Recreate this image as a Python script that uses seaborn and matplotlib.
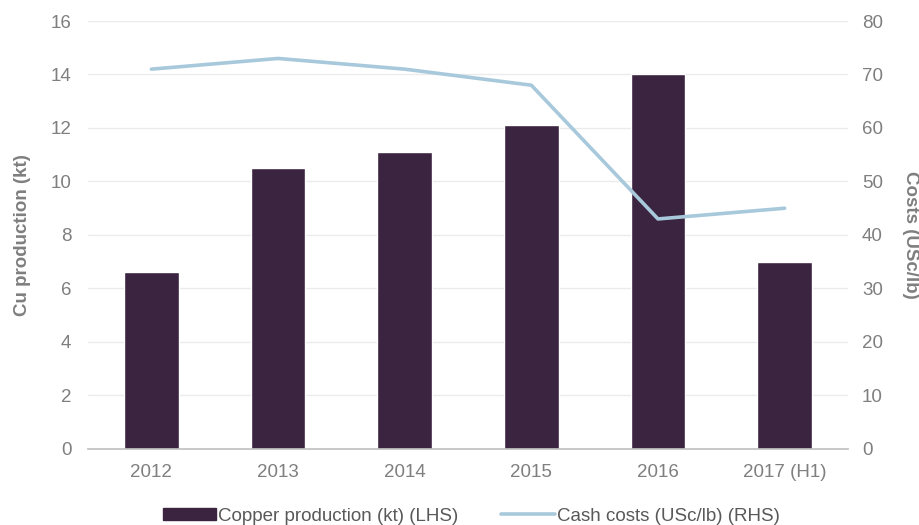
import matplotlib
matplotlib.use("Agg")
import matplotlib.pyplot as plt
import seaborn as sns
import pandas as pd
from matplotlib.patches import Patch
from matplotlib.lines import Line2D

years = ["2012", "2013", "2014", "2015", "2016", "2017 (H1)"]
copper_kt = [6.6, 10.5, 11.1, 12.1, 14.0, 7.0]
cash_costs = [71, 73, 71, 68, 43, 45]

bar_color = "#3b2440"
line_color = "#a7c9db"
text_color = "#7f7f7f"

sns.set_theme(style="white")
plt.rcParams["font.family"] = ["Liberation Sans", "DejaVu Sans"]

df = pd.DataFrame({"year": years, "copper": copper_kt, "cost": cash_costs})

fig = plt.figure(figsize=(9.2, 5.25), dpi=100)
ax = fig.add_axes([0.0957, 0.1448, 0.8260, 0.8152])

sns.barplot(data=df, x="year", y="copper", color=bar_color, width=0.43,
            saturation=1, ax=ax, zorder=2)
ax.set_xlim(-0.5, len(years) - 0.5)
ax.set_ylim(0, 16)
ax.set_yticks(range(0, 17, 2))
ax.grid(axis="y", color="#ebebeb", linewidth=1, zorder=0)
ax.set_axisbelow(True)

ax2 = ax.twinx()
sns.lineplot(x=list(range(len(years))), y=cash_costs, color=line_color,
             linewidth=2.6, ax=ax2, zorder=3)
ax2.set_ylim(0, 80)
ax2.set_yticks(range(0, 81, 10))

for a in (ax, ax2):
    for s in a.spines.values():
        s.set_visible(False)
ax.spines["bottom"].set_visible(True)
ax.spines["bottom"].set_color("#bfbfbf")
ax.spines["bottom"].set_linewidth(1.2)

# tick marks at category boundaries
ax.set_xticks(range(len(years)))
ax.set_xticks([i - 0.5 for i in range(len(years) + 1)], minor=True)
ax.tick_params(axis="x", which="minor", length=5, color="#bfbfbf", width=1, direction="out")
ax.tick_params(axis="x", which="major", length=0, labelsize=13.5, labelcolor=text_color, pad=11)
ax.tick_params(axis="y", length=0, labelsize=13.5, labelcolor=text_color, pad=12)
ax2.tick_params(axis="y", length=0, labelsize=13.5, labelcolor=text_color, pad=10)

ax.set_xlabel("")
ax.set_ylabel("Cu production (kt)", fontsize=13.5, fontweight="bold", color=text_color, labelpad=14)
ax2.set_ylabel("Costs (USc/lb)", fontsize=13.5, fontweight="bold", color=text_color,
               rotation=-90, labelpad=26)

handles = [Patch(facecolor=bar_color, edgecolor=bar_color),
           Line2D([0], [0], color=line_color, linewidth=2.6)]
labels = ["Copper production (kt) (LHS)", "Cash costs (USc/lb) (RHS)"]
fig.legend(handles, labels, loc="center", bbox_to_anchor=(0.512, 0.017), ncol=2,
           frameon=False, fontsize=13.5, labelcolor="#595959", handlelength=2.85,
           handleheight=0.65, handletextpad=0.1, columnspacing=2.3)

fig.savefig("out.png", dpi=100)
